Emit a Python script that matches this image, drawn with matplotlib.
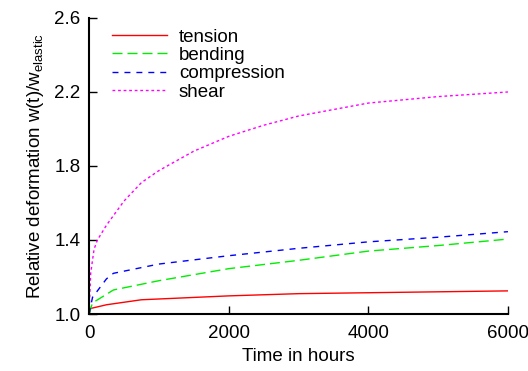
import matplotlib
matplotlib.use("Agg")
import matplotlib.pyplot as plt

plt.rcParams["font.family"] = ["Liberation Sans", "DejaVu Sans"]
plt.rcParams["mathtext.fontset"] = "custom"
plt.rcParams["mathtext.rm"] = "Liberation Sans"

# time in hours
t_tension = [0, 24, 250, 750, 2000, 3000, 4000, 6000]
tension = [1.0, 1.03, 1.05, 1.077, 1.098, 1.11, 1.115, 1.125]

t_bending = [0, 50, 350, 1000, 2000, 3000, 4000, 5000, 6000]
bending = [1.0, 1.06, 1.13, 1.18, 1.245, 1.29, 1.34, 1.37, 1.405]

t_compression = [0, 50, 150, 250, 350, 1000, 2000, 3000, 4000, 5000, 6000]
compression = [1.0, 1.09, 1.14, 1.19, 1.22, 1.27, 1.315, 1.355, 1.39, 1.415, 1.445]

t_shear = [0, 24, 72, 120, 250, 500, 750, 1000, 1500, 2000, 2500, 3000, 4000, 5000, 6000]
shear = [1.0, 1.22, 1.35, 1.40, 1.48, 1.61, 1.71, 1.775, 1.88, 1.96, 2.02, 2.07, 2.14, 2.175, 2.20]

fs = 13.5

fig = plt.figure(figsize=(5.28, 3.71), dpi=100)
ax = fig.add_axes([0.1686, 0.1536, 0.7934, 0.798])

ax.plot(t_tension, tension, color="#ff0000", lw=1.0, label="tension")
ax.plot(t_bending, bending, color="#00ee00", lw=1.0, dashes=(7.2, 3.6), label="bending")
ax.plot(t_compression, compression, color="#0000ff", lw=1.0, dashes=(4.3, 4.3), label="compression")
ax.plot(t_shear, shear, color="#ff00ff", lw=1.0, dashes=(2.0, 2.0), label="shear")

ax.set_xlim(0, 6000)
ax.set_ylim(1.0, 2.6)
ax.set_xticks([0, 2000, 4000, 6000])
ax.set_yticks([1.0, 1.4, 1.8, 2.2, 2.6])
ax.yaxis.set_major_formatter(matplotlib.ticker.FormatStrFormatter("%.1f"))
ax.tick_params(direction="in", length=6, width=1.0, labelsize=fs, pad=6)
ax.tick_params(axis="x", pad=8)

for s in ["top", "right"]:
    ax.spines[s].set_visible(False)
for s in ["left", "bottom"]:
    ax.spines[s].set_linewidth(1.5)

ax.set_xlabel("Time in hours", fontsize=fs, labelpad=4)
ax.set_ylabel(r"Relative deformation w(t)/w$_{\mathrm{elastic}}$", fontsize=fs, labelpad=6)

ax.legend(loc="upper left", frameon=False, fontsize=fs, handlelength=2.95,
          handletextpad=0.64, labelspacing=0.07, borderaxespad=0.0,
          bbox_to_anchor=(0.036, 0.99))

fig.savefig("out.png", dpi=100)
